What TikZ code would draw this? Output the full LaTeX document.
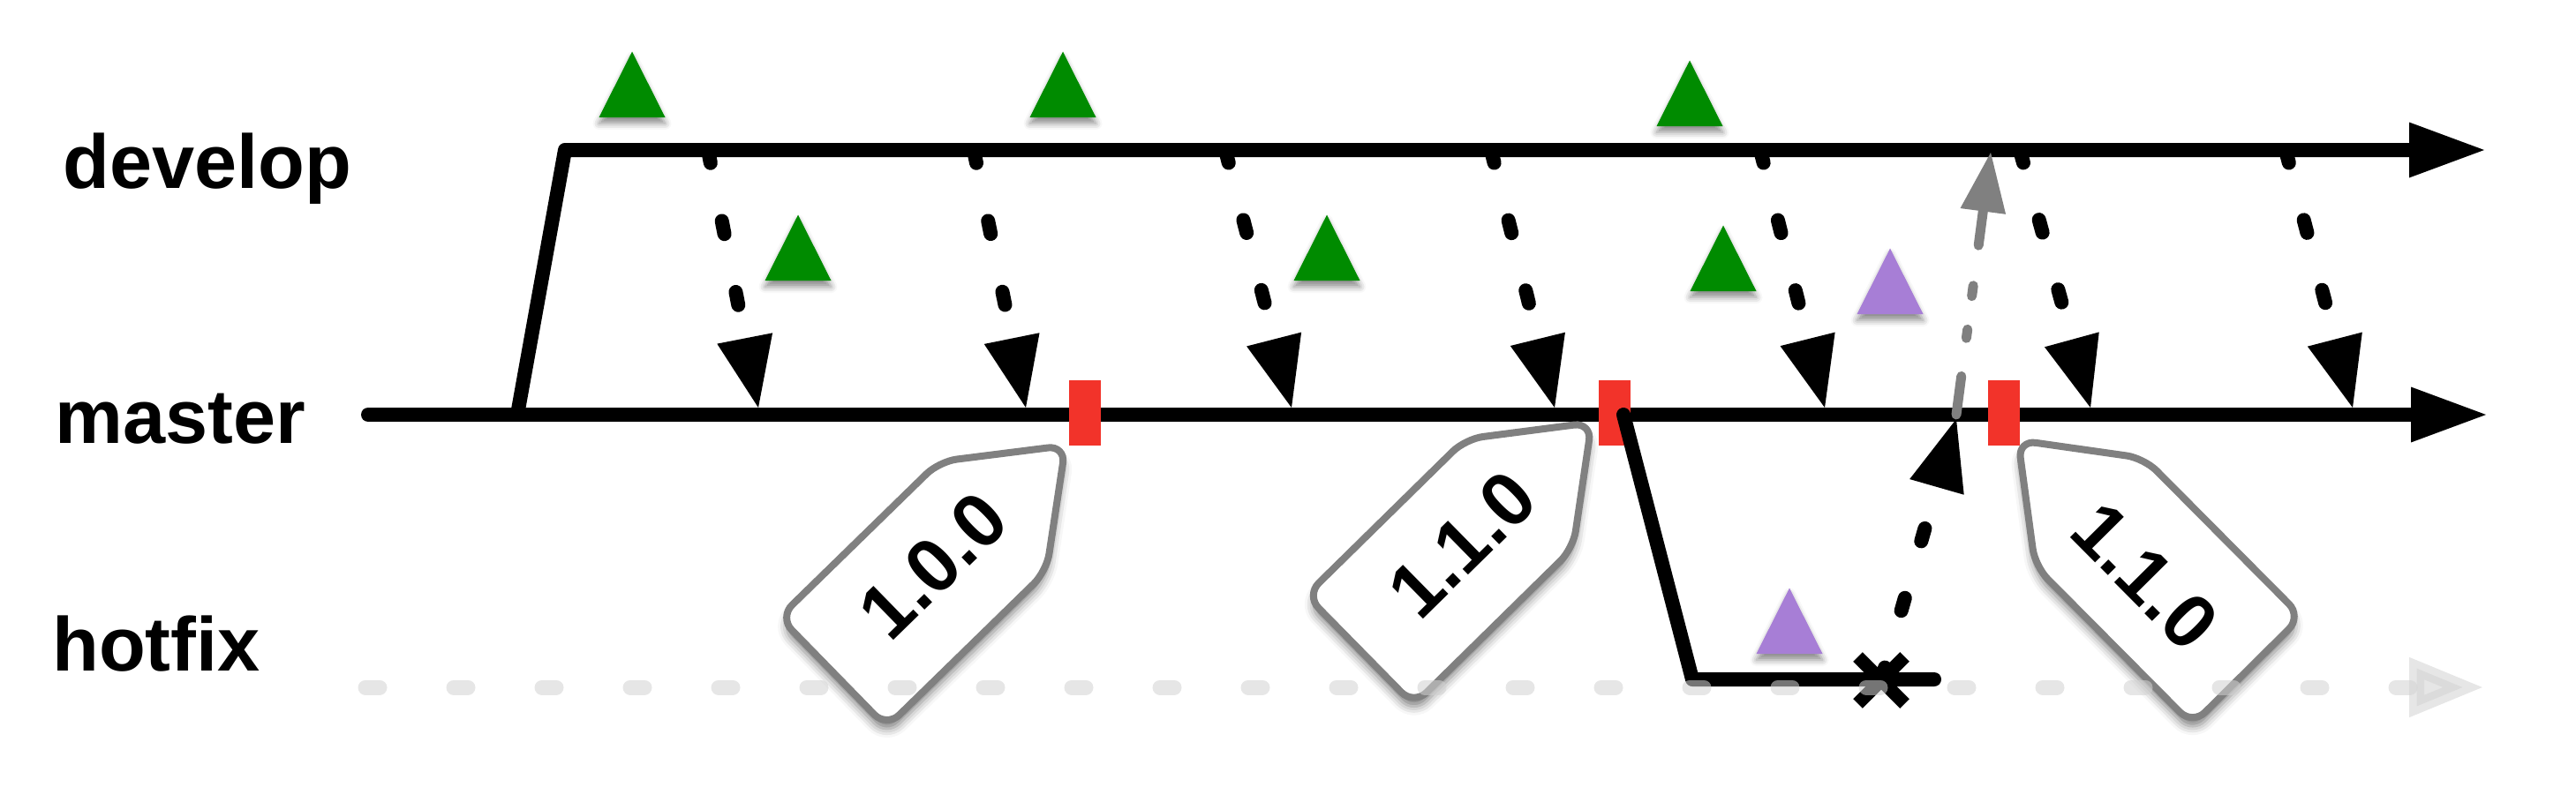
\documentclass[tikz,border=0pt]{standalone}
\usepackage{fontspec}
\setmainfont{Liberation Sans}
\usetikzlibrary{arrows.meta, shadows.blur, shapes.misc}

\definecolor{commitgreen}{HTML}{008B00}
\definecolor{commitpurple}{HTML}{A77ED6}
\definecolor{releasered}{HTML}{F2332A}
\definecolor{taggray}{HTML}{808080}
\definecolor{hotgray}{HTML}{D2D2D2}

\tikzset{
  branchname/.style={font=\fontsize{24.6}{29}\selectfont\bfseries, anchor=base west, inner sep=0pt},
  branch/.style={line width=0.16cm, line cap=round, line join=round},
  bigtip/.style={-{Triangle[length=0.85cm, width=0.63cm, line width=0pt, color=black, fill=black]}},
  merge/.style={line width=0.16cm, line cap=round, dash pattern=on 0.15cm off 0.67cm,
    -{Triangle[length=0.8cm, width=0.64cm, line width=0pt, color=black, fill=black]}},
  mergegray/.style={draw=taggray, line width=0.11cm, line cap=round,
    dash pattern=on 0.44cm off 0.435cm on 0.1cm off 0.38cm on 0.12cm off 0.46cm on 0.6cm off 0.4cm,
    -{Triangle[length=0.67cm, width=0.52cm, line width=0pt, color=taggray, fill=taggray]}},
  hotline/.style={draw=hotgray, opacity=0.56, line width=0.17cm, line cap=round,
    dash pattern=on 0.16cm off 0.84cm, -{Triangle[length=0.85cm, width=0.63cm, color=hotgray, fill=hotgray]}},
  commitshadow/.style={blur shadow={shadow xshift=0cm, shadow yshift=-0.07cm,
    shadow blur radius=0.07cm, shadow opacity=45}},
  release/.style={fill=releasered, minimum width=0.36cm, minimum height=0.74cm, inner sep=0pt},
  fixmark/.style={draw, cross out, minimum size=0.53cm, inner sep=0pt, outer sep=0pt, line width=0.15cm},
  tagshape/.style={draw=taggray, line width=0.08cm, fill=white, rounded corners=0.2cm,
    blur shadow={shadow xshift=0cm, shadow yshift=-0.1cm, shadow blur radius=0.1cm, shadow opacity=50}},
  tagtext/.style={font=\fontsize{24.6}{29}\selectfont\bfseries, inner sep=0pt},
  versiontag/.pic={
    \draw[tagshape] (0,0) -- ++(#1+37.1:1.442) -- ++(#1:2.53) -- ++(#1-90:1.74) -- ++(#1+180:2.53) -- cycle;
  }
}

\begin{document}
\begin{tikzpicture}
  \useasboundingbox (0,0) rectangle (29.18,9.08);

  % Branch names
  \node[branchname] (develop) at (0.71,6.95) {develop};
  \node[branchname] (master) at (0.615,4.06) {master};
  \node[branchname] (hotfix) at (0.585,1.48) {hotfix};

  % Commits
  \foreach \x/\y/\c in {7.16/7.75/commitgreen, 12.04/7.75/commitgreen, 19.14/7.65/commitgreen,
      9.04/5.90/commitgreen, 15.03/5.90/commitgreen, 19.52/5.78/commitgreen,
      21.41/5.52/commitpurple, 20.27/1.67/commitpurple}
    \fill[\c, commitshadow] (\x-0.375,\y) -- (\x,\y+0.745) -- (\x+0.375,\y) -- cycle;

  % Master and develop
  \coordinate (mstart) at (4.17,4.38);
  \coordinate (mend) at (28.16,4.38);
  \coordinate (dfork) at (5.86,4.38);
  \coordinate (dcorner) at (6.40,7.38);
  \coordinate (dend) at (28.14,7.38);
  \draw[branch, bigtip] (mstart) -- (mend);
  \draw[branch, bigtip] (dfork) -- (dcorner) -- (dend);

  % Merges develop -> master
  \foreach \i/\xs/\xt in {1/8.02/8.59, 2/11.03/11.62, 3/13.88/14.63, 4/16.89/17.61,
      5/19.94/20.67, 6/22.88/23.68, 7/25.89/26.65} {
    \coordinate (dev\i) at (\xs,7.38);
    \coordinate (mas\i) at (\xt,4.46);
    \draw[merge] (dev\i) -- (mas\i);
  }

  % Releases
  \foreach \x [count=\n] in {12.29,18.29,22.70}
    \node[release] (rel\n) at (\x,4.40) {};

  % Hotfix branch
  \coordinate (hfork) at (18.39,4.38);
  \coordinate (hcorner) at (19.17,1.38);
  \coordinate (hstop) at (21.91,1.38);
  \draw[branch] (hfork) -- (hcorner) -- (hstop);
  \node[fixmark] (fix) at (21.31,1.37) {};

  \coordinate (fixin) at (22.16,4.33);
  \coordinate (fixout) at (22.16,4.38);
  \coordinate (fixdev) at (22.55,7.35);
  \draw[merge] (fix.center) -- (fixin);
  \draw[mergegray] (fixout) -- (fixdev);

  % Tags
  \pic at (12.07,4.03) {versiontag=224.3};
  \pic at (18.03,4.29) {versiontag=224.5};
  \pic at (22.86,4.09) {versiontag=-45.2};
  \node[tagtext, rotate=44.3] (tagA) at (10.57,2.67) {1.0.0};
  \node[tagtext, rotate=44.5] (tagB) at (16.56,2.91) {1.1.0};
  \node[tagtext, rotate=-45.2] (tagC) at (24.30,2.55) {1.1.0};

  % Hotfix track
  \coordinate (hstart) at (4.14,1.29);
  \coordinate (hend) at (28.14,1.29);
  \draw[hotline] (hstart) -- (hend);
\end{tikzpicture}
\end{document}
